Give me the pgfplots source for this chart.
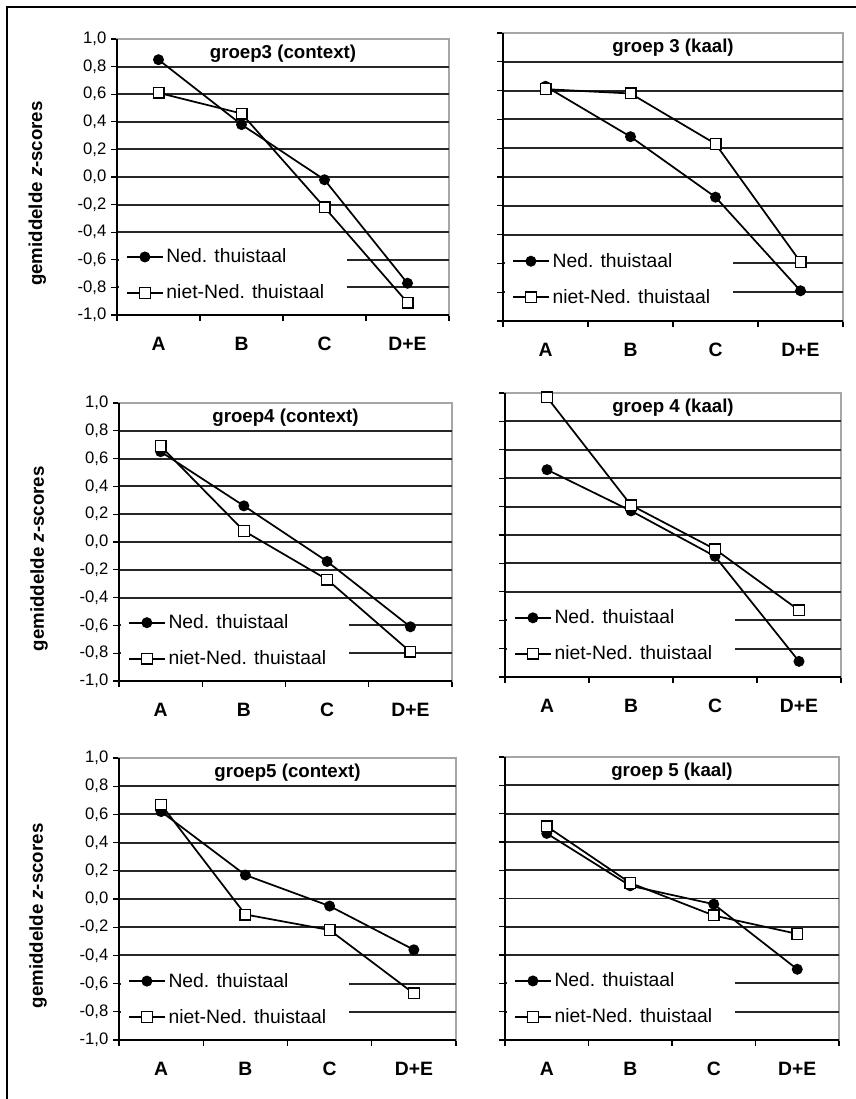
\documentclass[border=0pt]{standalone}
\usepackage{fontspec}
\setmainfont{Liberation Sans}
\usepackage{pgfplots}
\pgfplotsset{compat=1.18}

\newcommand{\nietlabel}{\makebox[128pt][l]{niet-Ned. thuistaal}}

\pgfplotsset{
  panel/.style={
    scale only axis,
    anchor=north west,
    xmin=0, xmax=4, ymin=-1, ymax=1,
    xtick={0,1,2,3,4}, xticklabels={},
    extra x ticks={0.5,1.5,2.5,3.5},
    extra x tick labels={A,B,C,D+E},
    extra x tick style={major tick length=0pt, grid=none,
      tick label style={font=\fontsize{14.5}{15}\selectfont\bfseries, yshift=-13pt}},
    ytick={-1,-0.8,-0.6,-0.4,-0.2,0,0.2,0.4,0.6,0.8,1},
    extra y ticks={-0.8,-0.6,-0.4,-0.2,0,0.2,0.4,0.6,0.8},
    extra y tick labels={},
    extra y tick style={grid=major, major tick length=0pt},
    major grid style={black!85, line width=1.4pt},
    yticklabel style={font=\fontsize{12.5}{13}\selectfont,
      /pgf/number format/.cd, fixed, fixed zerofill, precision=1, use comma, assume math mode=true},
    tick align=outside, xtick pos=bottom, ytick pos=left,
    major tick length=4.5pt,
    tick style={black, line width=1pt},
    axis line style={black!35, line width=0.9pt},
    title style={at={(0.5,1)}, anchor=north, yshift=-7pt,
      font=\fontsize{14}{15}\selectfont\bfseries},
    legend style={draw=none, fill=white, at={(rel axis cs:0.006,0.145)}, anchor=west,
      font=\fontsize{14.5}{15}\selectfont, legend cell align=left,
      row sep=11pt, inner xsep=5pt, inner ysep=2pt},
    legend image code/.code={\draw[line width=1.4pt, mark repeat=2, mark phase=2]
      plot coordinates {(0cm,0cm) (0.475cm,0cm) (0.95cm,0cm)};},
  },
  leftpanel/.style={panel,
    ylabel={gemiddelde \textit{z}-scores},
    ylabel style={at={(axis description cs:-0.24,0.44)}, anchor=center,
      font=\fontsize{14}{15}\selectfont\bfseries},
  },
  rightpanel/.style={panel, yticklabels={}},
  ned/.style={black, line width=1.3pt, mark=*, mark size=3.6pt, mark options={fill=black, solid, line width=1pt}},
  niet/.style={black, line width=1.3pt, mark=square*, mark size=4pt, mark options={fill=white, solid, line width=1pt}},
}

\newcommand{\frameaxis}[1]{\draw[black, line width=1.1pt] (#1.north west) -- (#1.south west) -- (#1.south east);}

\begin{document}
\begin{tikzpicture}
\useasboundingbox (0,0) rectangle (642pt,-824.25pt);
\draw[black, line width=1.1pt] (5.25pt,-824.25pt) -- (5.25pt,-5.25pt) -- (642pt,-5.25pt);

% groep 3
\begin{axis}[leftpanel, name=p1, at={(87.75pt,-29.25pt)}, width=249pt, height=207pt,
  title={groep3 (context)}]
\addplot[ned] coordinates {(0.5,0.85) (1.5,0.38) (2.5,-0.02) (3.5,-0.77)};
\addlegendentry{Ned. thuistaal}
\addplot[niet] coordinates {(0.5,0.61) (1.5,0.46) (2.5,-0.22) (3.5,-0.91)};
\addlegendentry{\nietlabel}
\end{axis}
\frameaxis{p1}

\begin{axis}[rightpanel, name=p2, at={(377.25pt,-24.75pt)}, width=255pt, height=216pt,
  title={groep 3 (kaal)}]
\addplot[ned] coordinates {(0.5,0.63) (1.5,0.28) (2.5,-0.14) (3.5,-0.79)};
\addlegendentry{Ned. thuistaal}
\addplot[niet] coordinates {(0.5,0.61) (1.5,0.58) (2.5,0.23) (3.5,-0.59)};
\addlegendentry{\nietlabel}
\end{axis}
\frameaxis{p2}

% groep 4
\begin{axis}[leftpanel, name=p3, at={(89.25pt,-302.25pt)}, width=249.75pt, height=208.5pt,
  title={groep4 (context)}]
\addplot[ned] coordinates {(0.5,0.65) (1.5,0.26) (2.5,-0.14) (3.5,-0.61)};
\addlegendentry{Ned. thuistaal}
\addplot[niet] coordinates {(0.5,0.69) (1.5,0.08) (2.5,-0.27) (3.5,-0.79)};
\addlegendentry{\nietlabel}
\end{axis}
\frameaxis{p3}

\begin{axis}[rightpanel, name=p4, at={(378.75pt,-294.75pt)}, width=252pt, height=213pt,
  title={groep 4 (kaal)}]
\addplot[ned] coordinates {(0.5,0.46) (1.5,0.17) (2.5,-0.15) (3.5,-0.89)};
\addlegendentry{Ned. thuistaal}
\addplot[niet] coordinates {(0.5,0.97) (1.5,0.21) (2.5,-0.10) (3.5,-0.53)};
\addlegendentry{\nietlabel}
\end{axis}
\frameaxis{p4}

% groep 5
\begin{axis}[leftpanel, name=p5, at={(89.25pt,-568.5pt)}, width=252.75pt, height=211.5pt,
  title={groep5 (context)}]
\addplot[ned] coordinates {(0.5,0.62) (1.5,0.17) (2.5,-0.05) (3.5,-0.36)};
\addlegendentry{Ned. thuistaal}
\addplot[niet] coordinates {(0.5,0.67) (1.5,-0.11) (2.5,-0.22) (3.5,-0.67)};
\addlegendentry{\nietlabel}
\end{axis}
\frameaxis{p5}

\begin{axis}[rightpanel, name=p6, at={(378.75pt,-567.75pt)}, width=250.5pt, height=212.25pt,
  title={groep 5 (kaal)}]
\addplot[ned] coordinates {(0.5,0.46) (1.5,0.09) (2.5,-0.04) (3.5,-0.50)};
\addlegendentry{Ned. thuistaal}
\addplot[niet] coordinates {(0.5,0.51) (1.5,0.11) (2.5,-0.12) (3.5,-0.25)};
\addlegendentry{\nietlabel}
\end{axis}
\frameaxis{p6}
\end{tikzpicture}
\end{document}
